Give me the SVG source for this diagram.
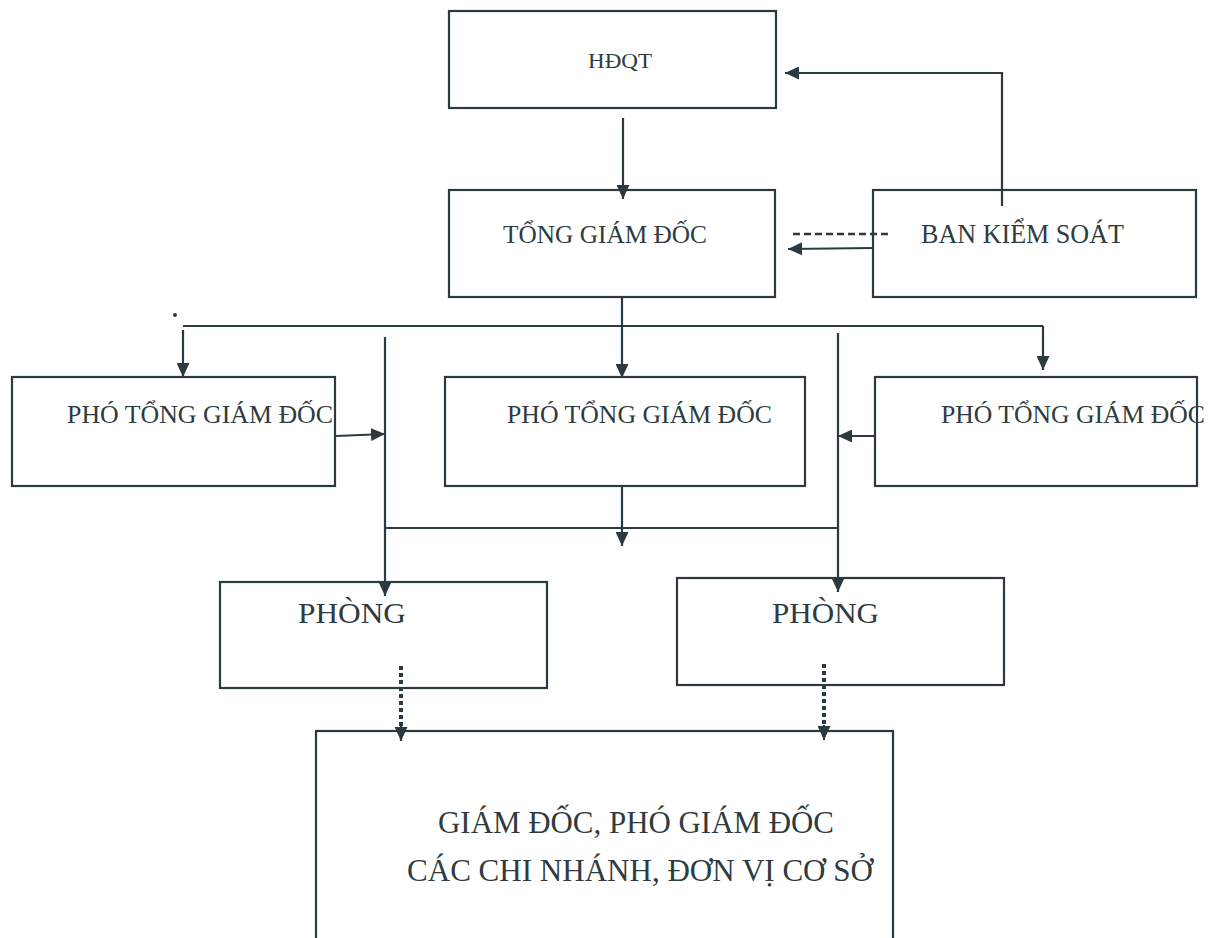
<svg xmlns="http://www.w3.org/2000/svg" width="1213" height="938" viewBox="0 0 1213 938">
<style>
.box{fill:none;stroke:#2c3a40;stroke-width:2.2}
.t{font-family:"Liberation Serif","Times New Roman",serif;fill:#2e3b40}
.ln{fill:none;stroke:#2c3a40;stroke-width:2.2}
.dash{fill:none;stroke:#2c3a40;stroke-width:2.6;stroke-dasharray:7 4}
.dot{fill:none;stroke:#2c3a40;stroke-width:4;stroke-dasharray:4 3}
</style>
<defs>
<marker id="ah" markerUnits="userSpaceOnUse" markerWidth="15" markerHeight="13" refX="14" refY="6.5" orient="auto">
<path d="M0,0 L14,6.5 L0,13 z" fill="#2c3a40"/>
</marker>
</defs>
<rect width="1213" height="938" fill="#ffffff"/>

<g id="hdqt">
<rect class="box" x="449" y="11" width="327" height="97"/>
<text class="t" x="588" y="68" font-size="22" textLength="64" lengthAdjust="spacingAndGlyphs">HĐQT</text>
</g>
<g id="tgd">
<rect class="box" x="449" y="190" width="326" height="107"/>
<text class="t" x="503" y="243" font-size="26" textLength="204" lengthAdjust="spacingAndGlyphs">TỔNG GIÁM ĐỐC</text>
</g>
<g id="bks">
<rect class="box" x="873" y="190" width="323" height="107"/>
<text class="t" x="921" y="243" font-size="26.5" textLength="203" lengthAdjust="spacingAndGlyphs">BAN KIỂM SOÁT</text>
</g>
<g id="ptgd1">
<rect class="box" x="12" y="377" width="323" height="109"/>
<text class="t" x="67" y="423" font-size="25" textLength="266" lengthAdjust="spacingAndGlyphs">PHÓ TỔNG GIÁM ĐỐC</text>
</g>
<g id="ptgd2">
<rect class="box" x="445" y="377" width="360" height="109"/>
<text class="t" x="507" y="423" font-size="25" textLength="265" lengthAdjust="spacingAndGlyphs">PHÓ TỔNG GIÁM ĐỐC</text>
</g>
<g id="ptgd3">
<rect class="box" x="875" y="377" width="322" height="109"/>
<text class="t" x="941" y="423" font-size="25" textLength="264" lengthAdjust="spacingAndGlyphs">PHÓ TỔNG GIÁM ĐỐC</text>
</g>
<g id="phong1">
<rect class="box" x="220" y="582" width="327" height="106"/>
<text class="t" x="298" y="623" font-size="30" textLength="108" lengthAdjust="spacingAndGlyphs">PHÒNG</text>
</g>
<g id="phong2">
<rect class="box" x="677" y="578" width="327" height="107"/>
<text class="t" x="772" y="623" font-size="30" textLength="107" lengthAdjust="spacingAndGlyphs">PHÒNG</text>
</g>
<g id="chinhanh">
<rect class="box" x="316" y="731" width="577" height="220"/>
<text class="t" x="438" y="833" font-size="31" textLength="396" lengthAdjust="spacingAndGlyphs">GIÁM ĐỐC, PHÓ GIÁM ĐỐC</text>
<text class="t" x="407" y="881" font-size="31" textLength="466" lengthAdjust="spacingAndGlyphs">CÁC CHI NHÁNH, ĐƠN VỊ CƠ SỞ</text>
</g>

<g id="connectors">
<line class="ln" x1="623" y1="118" x2="623" y2="199" marker-end="url(#ah)"/>
<polyline class="ln" points="1002,206 1002,73 785,73" marker-end="url(#ah)"/>
<line class="dash" x1="793" y1="234" x2="888" y2="234"/>
<line class="ln" x1="874" y1="248" x2="788" y2="249" marker-end="url(#ah)"/>
<line class="ln" x1="622" y1="297" x2="622" y2="378" marker-end="url(#ah)"/>
<line class="ln" x1="183" y1="326" x2="1043" y2="326"/>
<line class="ln" x1="183" y1="330" x2="183" y2="377" marker-end="url(#ah)"/>
<line class="ln" x1="1043" y1="326" x2="1043" y2="370" marker-end="url(#ah)"/>
<circle cx="175" cy="315" r="2" fill="#2c3a40"/>
<line class="ln" x1="385" y1="337" x2="385" y2="596" marker-end="url(#ah)"/>
<line class="ln" x1="838" y1="333" x2="838" y2="592" marker-end="url(#ah)"/>
<line class="ln" x1="336" y1="436" x2="385" y2="434" marker-end="url(#ah)"/>
<line class="ln" x1="875" y1="436" x2="838" y2="436" marker-end="url(#ah)"/>
<line class="ln" x1="622" y1="486" x2="622" y2="546" marker-end="url(#ah)"/>
<line class="ln" x1="385" y1="528" x2="838" y2="528"/>
<line class="dot" x1="401" y1="666" x2="401" y2="728"/>
<line class="ln" x1="401" y1="725" x2="401" y2="741" marker-end="url(#ah)"/>
<line class="dot" x1="824" y1="664" x2="824" y2="728"/>
<line class="ln" x1="824" y1="725" x2="824" y2="740" marker-end="url(#ah)"/>
</g>
</svg>
